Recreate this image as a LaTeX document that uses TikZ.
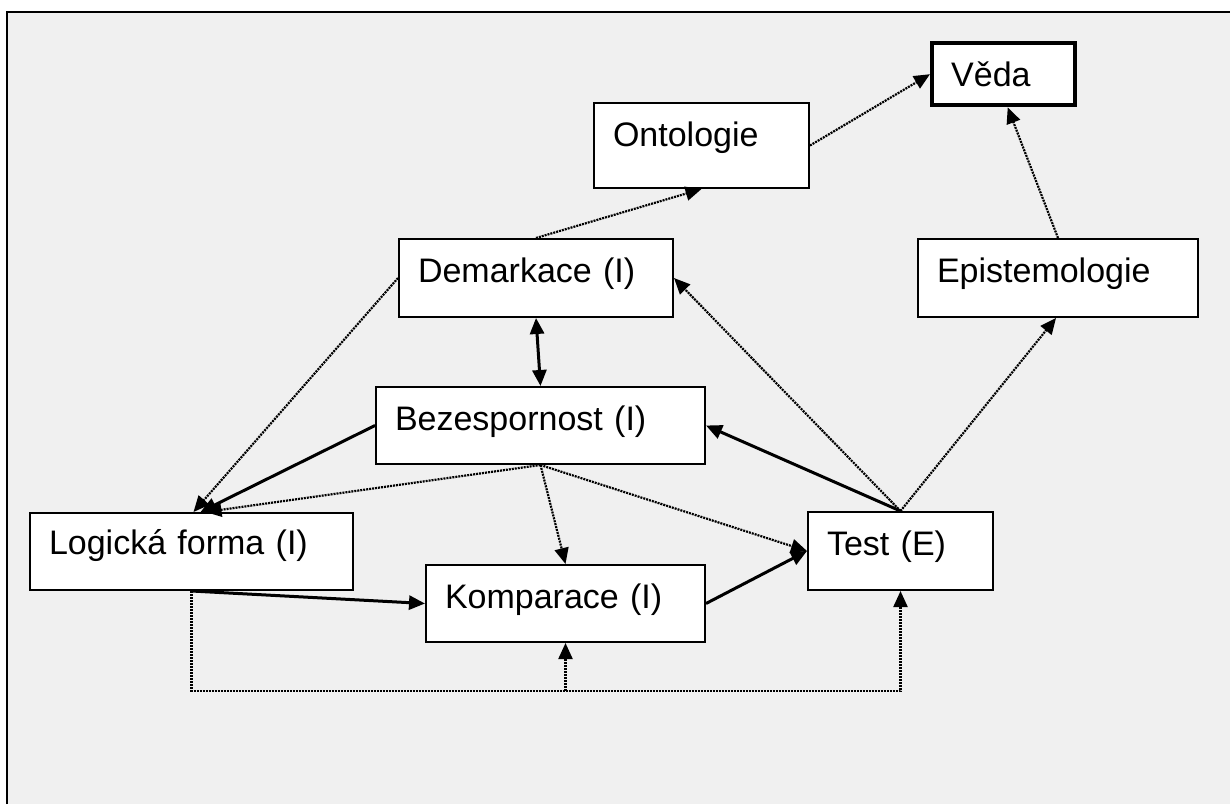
\documentclass[tikz,border=0pt]{standalone}
\usepackage{fontspec}
\setmainfont{Liberation Sans}
\usetikzlibrary{arrows.meta}
\definecolor{panel}{HTML}{F0F0F0}
\begin{document}
\begin{tikzpicture}[x=0.5pt,y=-0.5pt,
  box/.style={draw, fill=white, line width=1pt, anchor=north west,
    inner ysep=0pt, inner xsep=9.5pt, align=left, text height=21.5pt,
    font=\fontsize{17pt}{20pt}\selectfont},
  tip/.style={-{Triangle[length=8pt,width=7pt]}},
  solidlink/.style={tip, line width=1.5pt},
  dotlink/.style={tip, line width=1.1pt, dash pattern=on 1pt off 0.5pt},
]
% page and panel
\useasboundingbox (0,0) rectangle (1230,804);
\fill[white] (0,0) rectangle (1230,804);
\fill[panel] (7,12) rectangle (1230,804);
\draw[line width=1.2pt] (7,804) -- (7,12) -- (1230,12);

% boxes
\node[box, text width=52.5pt, text depth=9.5pt, line width=2.2pt] (veda) at (930,41) {Věda};
\node[box, text width=88.5pt, text depth=21pt] (ont) at (593,102) {Ontologie};
\node[box, text width=118pt, text depth=17.5pt] (dem) at (398,238) {Demarkace (I)};
\node[box, text width=121pt, text depth=17.5pt] (epi) at (917,238) {Epistemologie};
\node[box, text width=145.5pt, text depth=17pt] (bez) at (375,386) {Bezespornost (I)};
\node[box, text width=142.5pt, text height=20.5pt, text depth=18pt] (log) at (29,512) {Logická forma (I)};
\node[box, text width=120.5pt, text depth=17pt] (kom) at (425,564) {Komparace (I)};
\node[box, text width=73.5pt, text depth=17.5pt] (test) at (807,511) {Test (E)};

% connectors
\draw[dotlink] (ont.east) -- (veda.west);
\draw[dotlink] (dem.north) -- (ont.south);
\draw[dotlink] (epi.north) -- ([xshift=2pt]veda.south);
\draw[solidlink, {Triangle[length=8pt,width=7pt]}-{Triangle[length=8pt,width=7pt]}] (dem.south) -- (bez.north);
\draw[dotlink] (dem.west) -- ([xshift=1pt]log.north);
\draw[solidlink] (bez.west) -- ([xshift=4.5pt]log.north);
\draw[dotlink] (bez.south) -- ([xshift=7pt]log.north);
\draw[dotlink] (bez.south) -- (kom.north);
\draw[dotlink] (bez.south) -- (test.west);
\draw[solidlink] (kom.east) -- (test.west);
\draw[solidlink] (test.north) -- (bez.east);
\draw[dotlink] (test.north) -- (dem.east);
\draw[dotlink] (test.north) -- ([xshift=-1pt]epi.south);
\draw[solidlink] (log.south) -- (kom.west);

% feedback loop along the bottom
\coordinate (bl) at ([yshift=-50pt]log.south);
\coordinate (br) at (test.south |- bl);
\coordinate (kj) at (kom.south |- bl);
\draw[dotlink] (log.south) -- (bl) -- (br) -- (test.south);
\draw[dotlink] (kj) -- (kom.south);
\end{tikzpicture}
\end{document}
